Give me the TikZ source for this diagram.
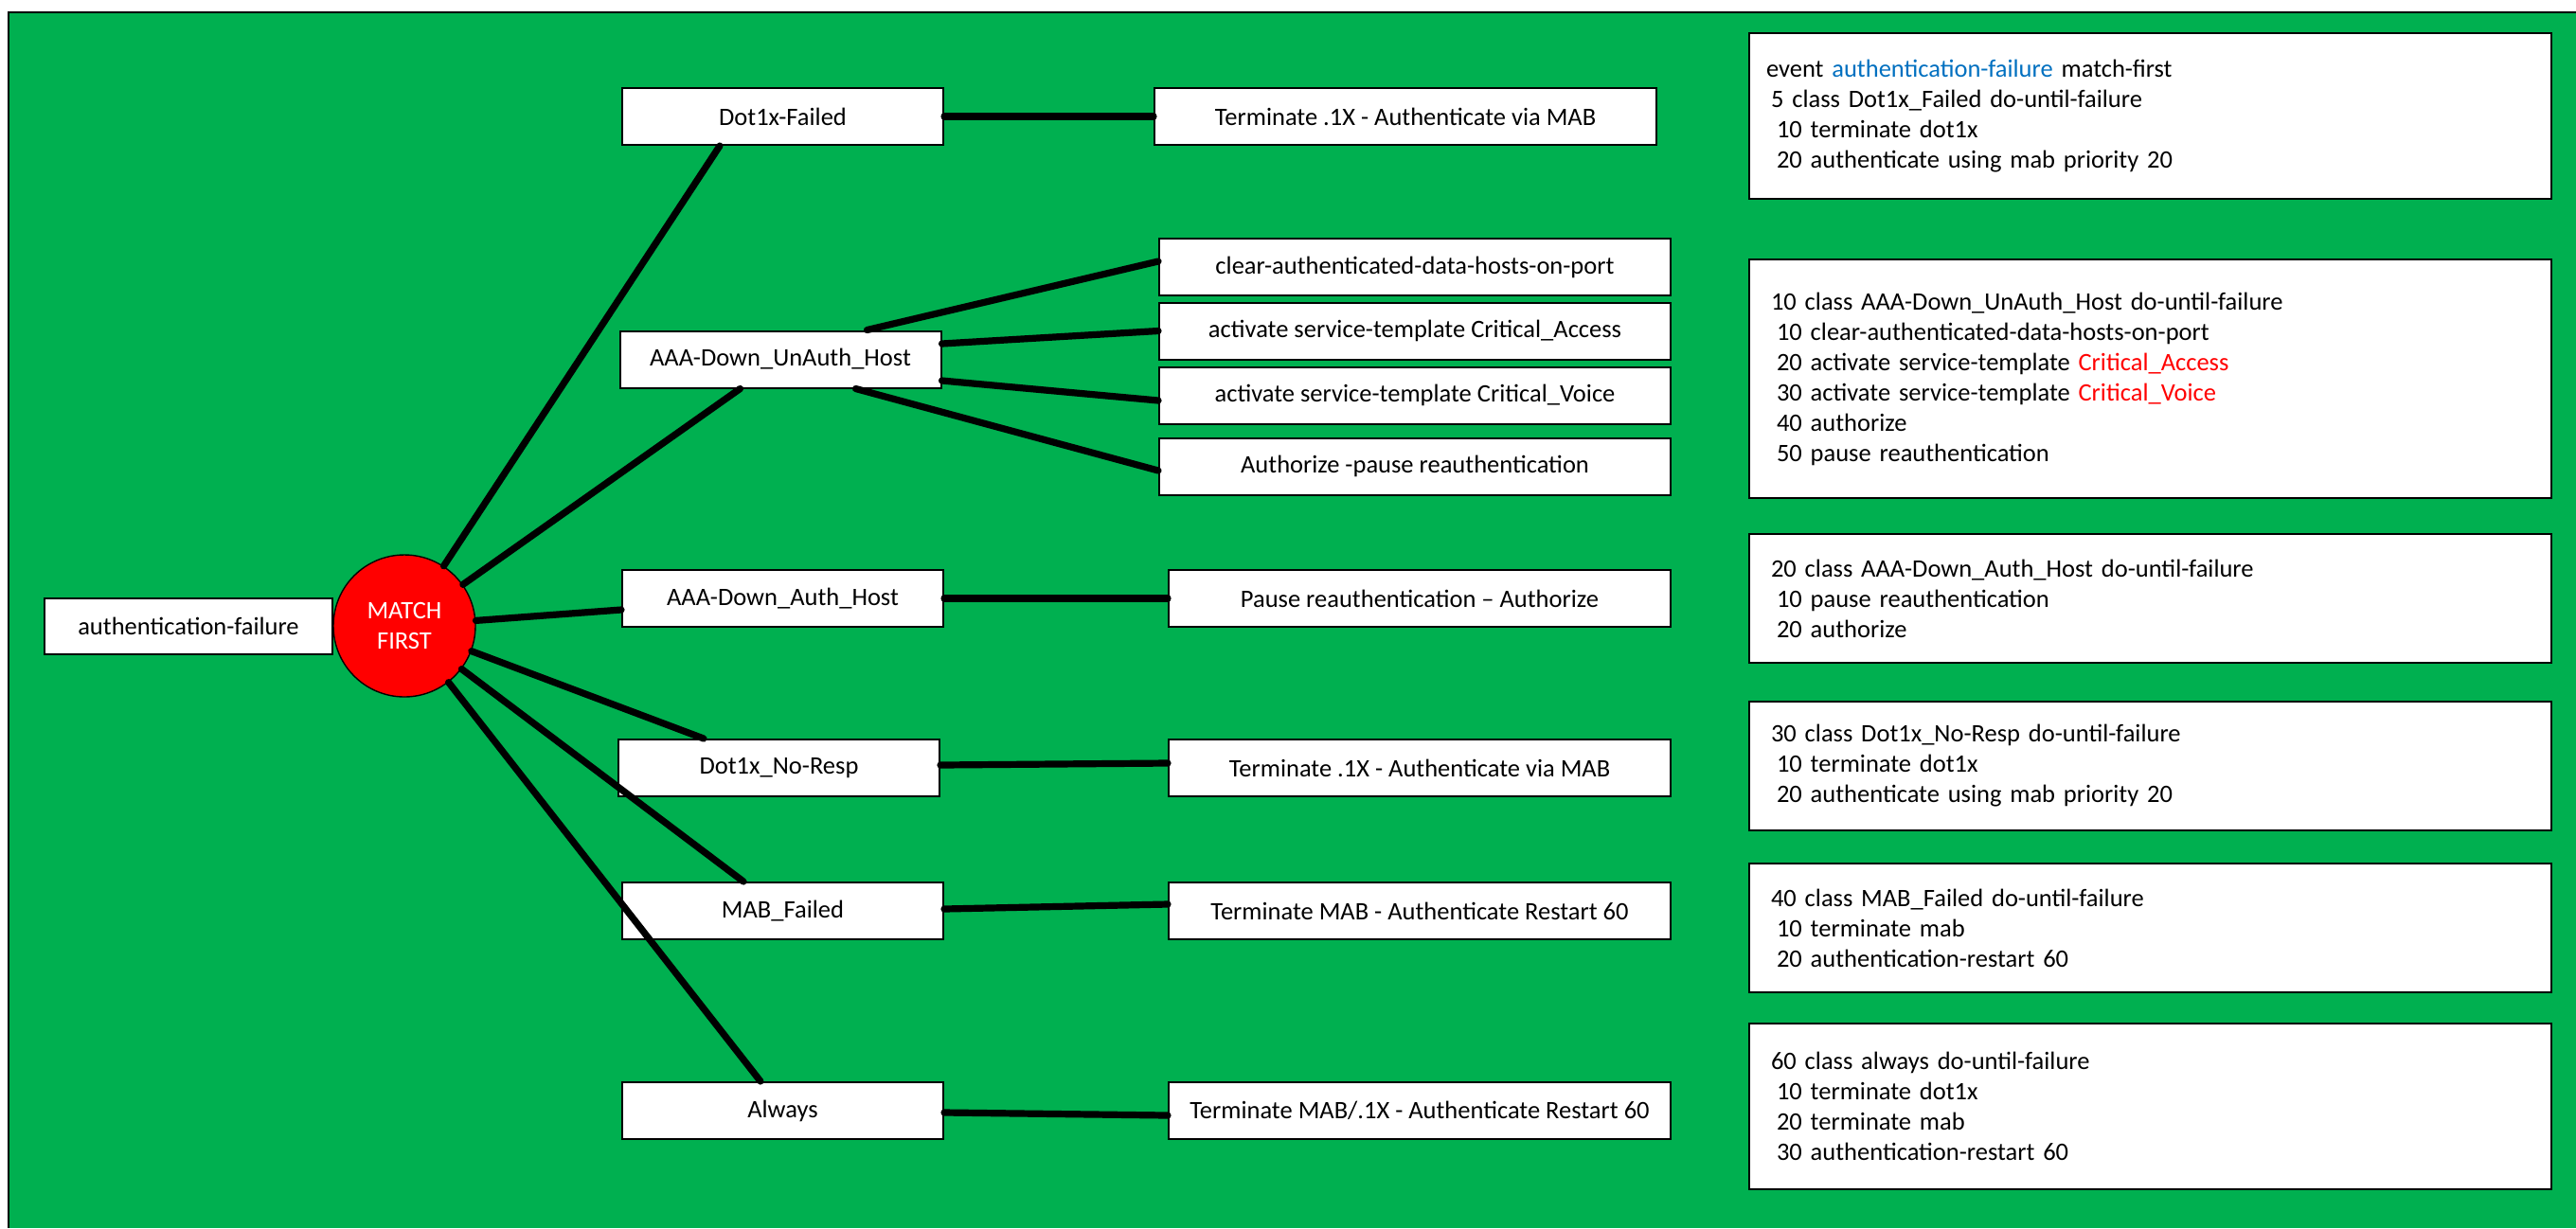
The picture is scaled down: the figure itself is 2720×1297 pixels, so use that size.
\documentclass[tikz,border=0pt]{standalone}
\usepackage{fontspec}
\setmainfont{Carlito}
\usepackage{tikz}
\definecolor{bggreen}{HTML}{00B050}
\definecolor{evblue}{HTML}{0070C0}
\tikzstyle{cls}=[draw, fill=white, line width=0.2mm, minimum width=33.9mm, minimum height=6mm, inner sep=0pt]
\tikzstyle{act}=[cls, minimum width=53mm]
\tikzstyle{cfg}=[draw, fill=white, line width=0.2mm, text width=81.1mm, inner xsep=1.8mm, inner ysep=0pt, align=left]
\tikzstyle{lnk}=[draw, line width=0.72mm, line cap=round]

\begin{document}
\begin{tikzpicture}[x=0.1mm,y=-0.1mm,font=\fontsize{7.54pt}{9.1pt}\selectfont]
  \useasboundingbox (0,0) rectangle (2720,1297);
  \fill[white] (0,0) rectangle (2720,1297);
  \fill[bggreen] (9,13) rectangle (2720,1297);
  \draw[line width=0.2mm] (2720,13) -- (9,13) -- (9,1297);

  \node [circle, draw, fill=red, text=white, minimum size=15mm, inner sep=0pt, align=center] (mf) at (427,661) {MATCH\\FIRST};
  \node [cls, minimum width=30.4mm, minimum height=5.9mm] (ev) [left of=mf, node distance=22.8mm] {authentication-failure};

  \node [cls] (d1) at (826.5,123) {Dot1x-Failed};
  \node [cls] (ua) at (824,379.5) {AAA-Down\_UnAuth\_Host};
  \node [cls] (ah) at (826.5,632) {AAA-Down\_Auth\_Host};
  \node [cls] (nr) at (822.5,811) {Dot1x\_No-Resp};
  \node [cls] (mb) at (826.5,962) {MAB\_Failed};
  \node [cls] (al) at (826.5,1173) {Always};

  \node [act] (t1) [right of=d1, node distance=65.75mm] {Terminate .1X - Authenticate via MAB};
  \node [act, minimum width=54mm] (c1) at (1494,282) {clear-authenticated-data-hosts-on-port};
  \node [act, minimum width=54mm] (c2) [below of=c1, node distance=6.75mm] {activate service-template Critical\_Access};
  \node [act, minimum width=54mm] (c3) [below of=c2, node distance=6.8mm] {activate service-template Critical\_Voice};
  \node [act, minimum width=54mm] (c4) [below of=c3, node distance=7.5mm] {Authorize -pause reauthentication};
  \node [act] (p1) [right of=ah, node distance=67.25mm] {Pause reauthentication \textendash{} Authorize};
  \node [act] (t2) [right of=nr, node distance=67.65mm] {Terminate .1X - Authenticate via MAB};
  \node [act] (t3) [right of=mb, node distance=67.25mm] {Terminate MAB - Authenticate Restart 60};
  \node [act] (t4) [right of=al, node distance=67.25mm] {Terminate MAB/.1X - Authenticate Restart 60};

  % config listing
  \node [cfg, minimum height=17.5mm] (b1) at (2270.5,122.5) {event \textcolor{evblue}{authentication-failure} match-first\\
    \hspace*{0.5mm}5 class Dot1x\_Failed do-until-failure\\
    \hspace*{1.1mm}10 terminate dot1x\\
    \hspace*{1.1mm}20 authenticate using mab priority 20};
  \node [cfg, minimum height=25.2mm] (b2) at (2270.5,400) {\hspace*{0.5mm}10 class AAA-Down\_UnAuth\_Host do-until-failure\\
    \hspace*{1.1mm}10 clear-authenticated-data-hosts-on-port\\
    \hspace*{1.1mm}20 activate service-template \textcolor{red}{Critical\_Access}\\
    \hspace*{1.1mm}30 activate service-template \textcolor{red}{Critical\_Voice}\\
    \hspace*{1.1mm}40 authorize\\
    \hspace*{1.1mm}50 pause reauthentication};
  \node [cfg, minimum height=13.6mm] (b3) at (2270.5,632) {\hspace*{0.5mm}20 class AAA-Down\_Auth\_Host do-until-failure\\
    \hspace*{1.1mm}10 pause reauthentication\\
    \hspace*{1.1mm}20 authorize};
  \node [cfg, minimum height=13.6mm] (b4) at (2270.5,809) {\hspace*{0.5mm}30 class Dot1x\_No-Resp do-until-failure\\
    \hspace*{1.1mm}10 terminate dot1x\\
    \hspace*{1.1mm}20 authenticate using mab priority 20};
  \node [cfg, minimum height=13.6mm] (b5) at (2270.5,980) {\hspace*{0.5mm}40 class MAB\_Failed do-until-failure\\
    \hspace*{1.1mm}10 terminate mab\\
    \hspace*{1.1mm}20 authentication-restart 60};
  \node [cfg, minimum height=17.5mm] (b6) at (2270.5,1168.5) {\hspace*{0.5mm}60 class always do-until-failure\\
    \hspace*{1.1mm}10 terminate dot1x\\
    \hspace*{1.1mm}20 terminate mab\\
    \hspace*{1.1mm}30 authentication-restart 60};

  % links
  \path[lnk] (mf) edge ([xshift=10.4mm]d1.south west)
                  edge ([xshift=12.8mm]ua.south west)
                  edge ([yshift=-1.2mm]ah.west)
                  edge ([xshift=9.1mm]nr.north west)
                  edge ([xshift=12.9mm]mb.north west)
                  edge ([xshift=14.7mm]al.north west);
  \path[lnk] (d1.east) edge (t1.west);
  \path[lnk] ([xshift=26.2mm]ua.north west) edge ([yshift=0.6mm]c1.west);
  \path[lnk] ([yshift=1.65mm]ua.east) edge (c2.west);
  \path[lnk] ([yshift=-2.25mm]ua.east) edge ([yshift=-0.55mm]c3.west);
  \path[lnk] ([xshift=25mm]ua.south west) edge ([yshift=-0.45mm]c4.west);
  \path[lnk] (ah.east) edge (p1.west);
  \path[lnk] ([yshift=0.3mm]nr.east) edge ([yshift=0.5mm]t2.west);
  \path[lnk] ([yshift=0.2mm]mb.east) edge ([yshift=0.7mm]t3.west);
  \path[lnk] ([yshift=-0.2mm]al.east) edge ([yshift=-0.5mm]t4.west);
\end{tikzpicture}
\end{document}
